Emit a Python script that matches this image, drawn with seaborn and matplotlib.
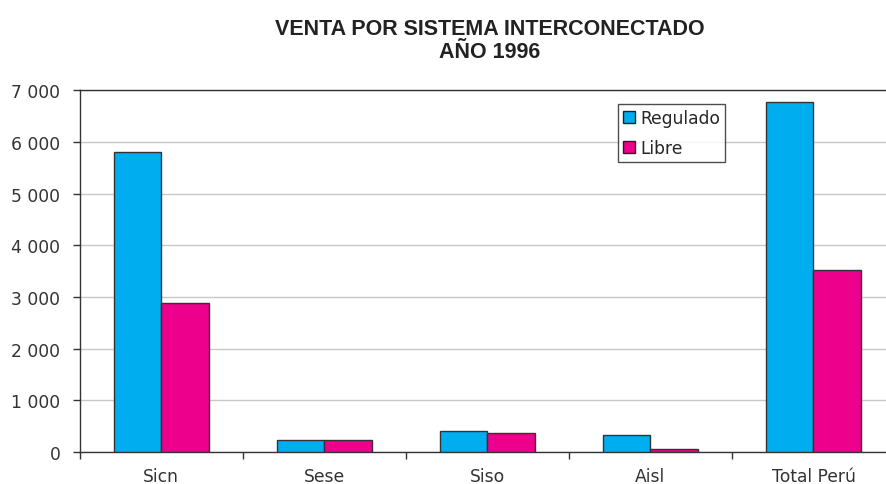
import numpy as np
import pandas as pd
import matplotlib
matplotlib.use("Agg")
import matplotlib.pyplot as plt
from matplotlib.ticker import FuncFormatter, FixedLocator
import seaborn as sns

sistemas = ['Sicn', 'Sese', 'Siso', 'Aisl', 'Total Perú']
regulado = [5800, 230, 415, 320, 6770]
libre = [2880, 230, 375, 50, 3520]

df = pd.DataFrame({
    'Sistema': sistemas * 2,
    'Mercado': ['Regulado'] * len(sistemas) + ['Libre'] * len(sistemas),
    'Venta': regulado + libre,
})

sns.set_style("white")
plt.rcParams['font.family'] = ['DejaVu Sans']

fig = plt.figure(figsize=(8.87, 4.85), dpi=100)
ax = fig.add_axes([0.090, 0.066, 0.919, 0.746])

my_pal = {'Regulado': '#00AEEF', 'Libre': '#EC008C'}
sns.barplot(data=df, x='Sistema', y='Venta', hue='Mercado', palette=my_pal,
            width=0.58, gap=0, edgecolor='#333333', linewidth=1.0,
            saturation=1, ax=ax, zorder=3)

ax.set_ylim(0, 7000)
ax.set_xlim(-0.5, 4.5)
ax.set_yticks(np.arange(0, 7001, 1000))
ax.yaxis.set_major_formatter(FuncFormatter(lambda v, p: '{:,.0f}'.format(v).replace(',', ' ')))
ax.grid(axis='y', color='#c8c8c8', lw=1, zorder=0)
ax.set_axisbelow(True)

# ticks between categories, labels at centres
ax.xaxis.set_major_locator(FixedLocator(np.arange(-0.5, 5, 1)))
ax.xaxis.set_major_formatter(FuncFormatter(lambda v, p: ''))
ax.xaxis.set_minor_locator(FixedLocator(np.arange(0, 5)))
ax.set_xticklabels(sistemas, minor=True)
ax.tick_params(axis='x', which='major', direction='out', length=5, width=1, color='#333333', bottom=True)
ax.tick_params(axis='x', which='minor', length=0, pad=11, labelsize=12.3, labelcolor='#333333')
ax.tick_params(axis='y', direction='out', length=5, width=1, color='#333333', left=True,
               labelsize=12.3, labelcolor='#333333', pad=9)

ax.set_xlabel('')
ax.set_ylabel('')
for s in ['left', 'bottom', 'top']:
    ax.spines[s].set_color('#333333')
    ax.spines[s].set_linewidth(1)
ax.spines['right'].set_visible(False)

leg = ax.legend(loc='upper left', bbox_to_anchor=(0.660, 0.963), frameon=True, fancybox=False,
                fontsize=12.3, handlelength=0.7, handleheight=0.7, handletextpad=0.3,
                borderpad=0.3, labelspacing=0.7, borderaxespad=0)
leg.get_frame().set_edgecolor('#222222')
leg.get_frame().set_linewidth(1)
for h in leg.legend_handles:
    h.set_edgecolor('#222222')

title_kw = dict(ha='center', va='baseline', fontsize=15.5, fontweight='bold', color='#222222',
                family=['Liberation Sans', 'DejaVu Sans'])
fig.text(0.552, 1 - 35 / 485, 'VENTA POR SISTEMA INTERCONECTADO', **title_kw)
fig.text(0.552, 1 - 58 / 485, 'AÑO 1996', **title_kw)

fig.savefig('out.png', dpi=100, facecolor='white')
